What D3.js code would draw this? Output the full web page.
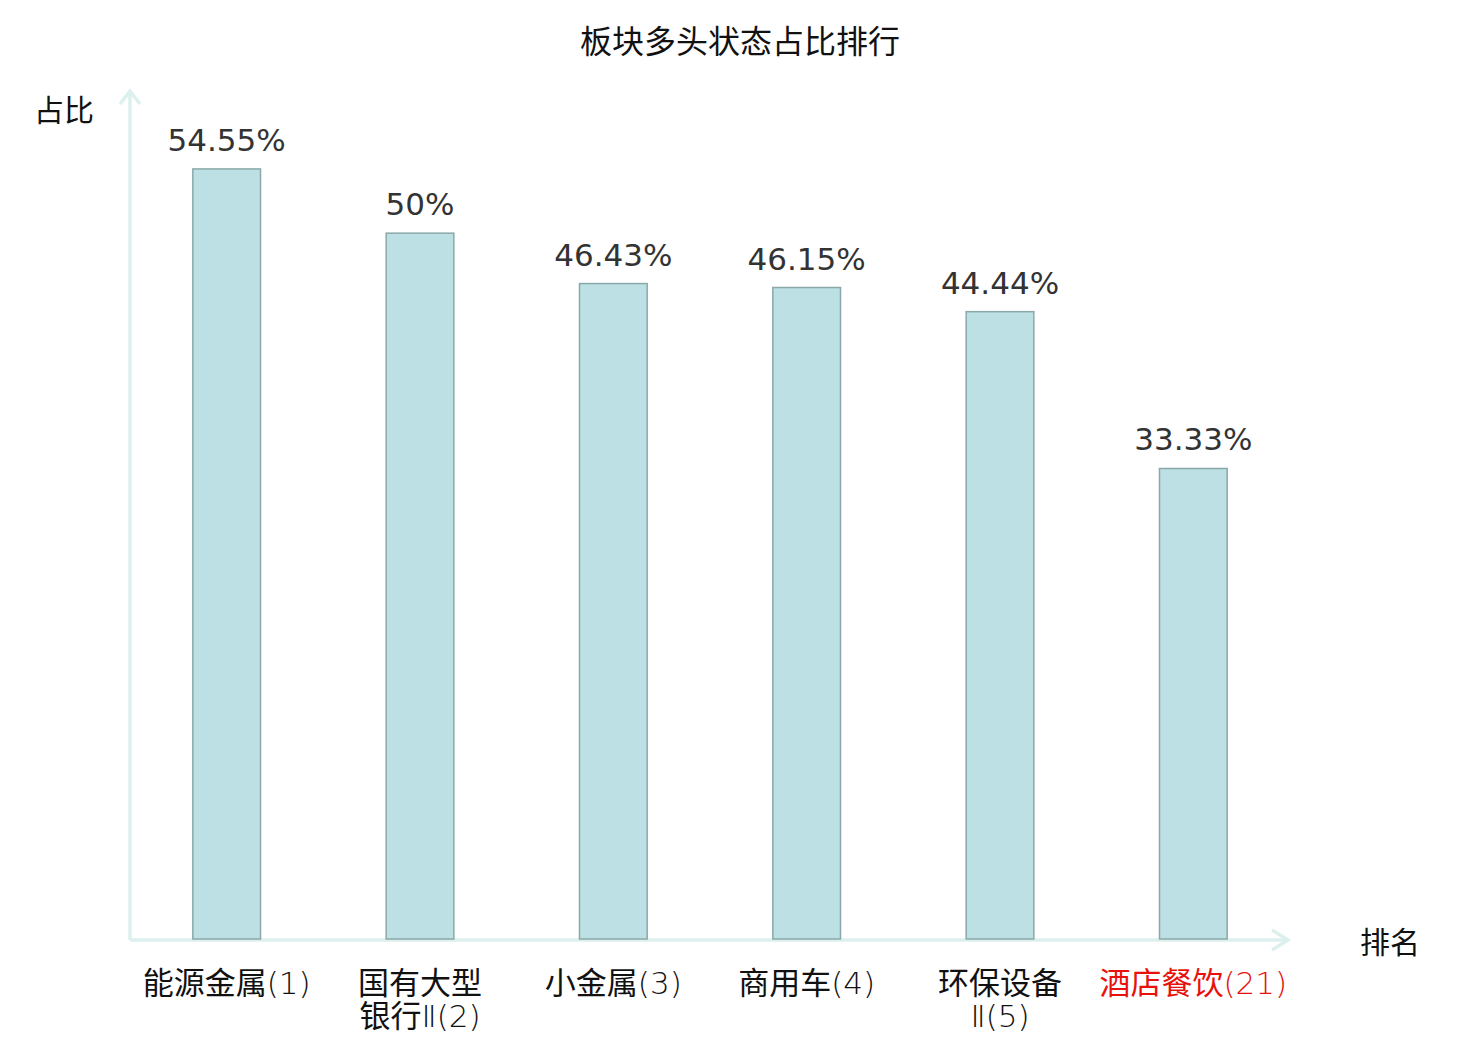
<!DOCTYPE html>
<html lang="zh">
<head>
    <meta charset="UTF-8">
    <title>板块多头状态占比排行</title>
    <script src="https://d3js.org/d3.v7.min.js"></script>
    <style>
        body { margin: 0; background: #fff; }
        svg text { font-family: "DejaVu Sans", "Noto Sans CJK SC", sans-serif; }
        svg text.cat { font-family: "DejaVu Sans ExtraLight", "DejaVu Sans Light", "Noto Sans CJK SC", sans-serif; }
    </style>
</head>
<body>
    <svg width="1480" height="1040"></svg>
    <script>
        // 数据
        const categories = ["能源金属(1)", "国有大型银行Ⅱ(2)", "小金属(3)", "商用车(4)", "环保设备Ⅱ(5)", "酒店餐饮(21)"];
        const labelLines = [["能源金属(1)"], ["国有大型", "银行Ⅱ(2)"], ["小金属(3)"], ["商用车(4)"], ["环保设备", "Ⅱ(5)"], ["酒店餐饮(21)"]];
        const values = [54.55, 50, 46.43, 46.15, 44.44, 33.33];
        const valueLabels = ["54.55%", "50%", "46.43%", "46.15%", "44.44%", "33.33%"];
        const highlight = "酒店餐饮(21)";

        const svg = d3.select("svg");
        const mLeft = 130, mRight = 1290, mBottom = 939, mTop = 92;

        const x = d3.scaleBand().domain(categories).range([mLeft, mRight]).paddingInner(0.65).paddingOuter(0.325);
        const y = d3.scaleLinear().domain([0, 60]).range([mBottom, mTop]);

        // 标题
        svg.append("text")
            .attr("x", 740).attr("y", 53)
            .attr("text-anchor", "middle")
            .attr("font-size", 32)
            .attr("fill", "#111")
            .text("板块多头状态占比排行");

        // 坐标轴
        const axisColor = "#dcf1ee";
        const axes = svg.append("g").attr("stroke", axisColor).attr("stroke-width", 3.5).attr("fill", "none");
        axes.append("line").attr("x1", mLeft).attr("y1", mBottom + 1).attr("x2", mLeft).attr("y2", 90);
        axes.append("path").attr("d", `M${mLeft - 10},${104} L${mLeft},${91} L${mLeft + 10},${104}`);
        axes.append("line").attr("x1", mLeft).attr("y1", mBottom + 1).attr("x2", 1288).attr("y2", mBottom + 1);
        axes.append("path").attr("d", `M${1272},${930} L${1288},${mBottom + 1} L${1272},${950}`);

        svg.append("text").attr("x", 34).attr("y", 121).attr("font-size", 30).attr("fill", "#111").text("占比");
        svg.append("text").attr("x", 1360).attr("y", 953).attr("font-size", 30).attr("fill", "#111").text("排名");

        // 柱子
        svg.append("g").selectAll("rect")
            .data(values)
            .join("rect")
            .attr("x", (d, i) => x(categories[i]))
            .attr("y", d => y(d))
            .attr("width", x.bandwidth())
            .attr("height", d => y(0) - y(d))
            .attr("fill", "#bce0e3")
            .attr("stroke", "#8aa8a8")
            .attr("stroke-width", 1.5);

        // 数值标签
        svg.append("g").selectAll("text")
            .data(values)
            .join("text")
            .attr("x", (d, i) => x(categories[i]) + x.bandwidth() / 2)
            .attr("y", d => y(d) - 18)
            .attr("text-anchor", "middle")
            .attr("font-size", 31)
            .attr("fill", "#333")
            .text((d, i) => valueLabels[i]);

        // 类目标签
        const cat = svg.append("g").selectAll("text")
            .data(categories)
            .join("text")
            .attr("class", "cat")
            .attr("x", d => x(d) + x.bandwidth() / 2)
            .attr("y", 994)
            .attr("text-anchor", "middle")
            .attr("font-size", 31)
            .attr("fill", d => d === highlight ? "#e8120c" : "#111");
        cat.each(function (d, i) {
            const t = d3.select(this);
            const cx = x(d) + x.bandwidth() / 2;
            labelLines[i].forEach((line, j) => {
                t.append("tspan").attr("x", cx).attr("dy", j === 0 ? 0 : 33).text(line);
            });
        });
    </script>
</body>
</html>
